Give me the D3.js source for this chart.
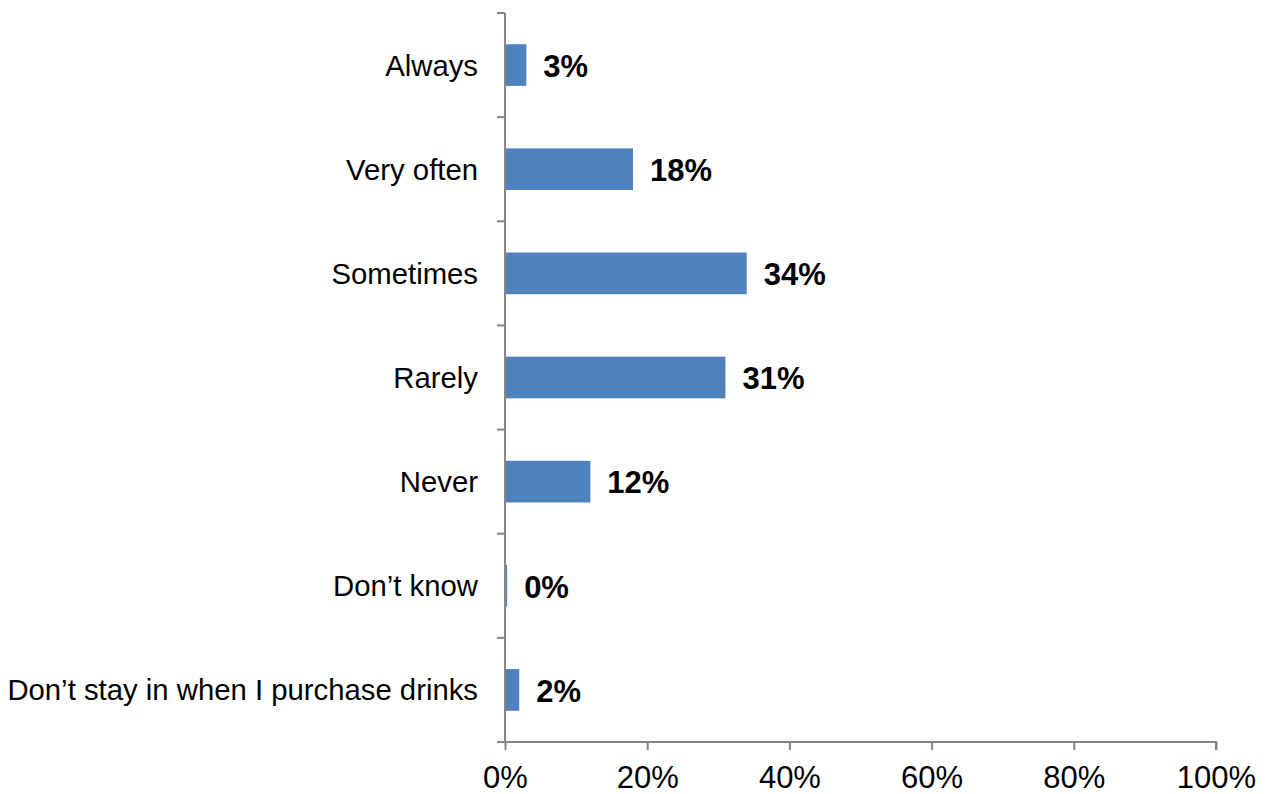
<!DOCTYPE html>
<html>
<head>
<meta charset="utf-8">
<script src="https://cdn.jsdelivr.net/npm/d3@7"></script>
<style>
  html, body { margin: 0; padding: 0; background: #fff; }
  svg { display: block; }
</style>
</head>
<body>
<svg id="chart" width="1271" height="794"></svg>
<script>
// Survey responses, top to bottom
const categories = [
  "Always",
  "Very often",
  "Sometimes",
  "Rarely",
  "Never",
  "Don\u2019t know",
  "Don\u2019t stay in when I purchase drinks"
];
const shares = [3, 18, 34, 31, 12, 0.3, 2];
const xTickValues = [0, 20, 40, 60, 80, 100];

const svg = d3.select("#chart");
const margin = { top: 13, left: 505, right: 55, bottom: 52 };
const W = 1271, H = 794;

const x = d3.scaleLinear().domain([0, 100]).range([margin.left, W - margin.right]);
const y = d3.scaleBand().domain(categories).range([margin.top, H - margin.bottom]).paddingInner(0.6).paddingOuter(0.3);

const axisColor = "#868686";
const font = "Arial, 'Liberation Sans', sans-serif";

// Bars
svg.append("g").selectAll("rect")
  .data(categories)
  .enter().append("rect")
  .attr("x", x(0))
  .attr("y", d => y(d))
  .attr("width", (d, i) => x(shares[i]) - x(0))
  .attr("height", y.bandwidth())
  .attr("fill", "#4F81BD");

// Value labels
svg.append("g").selectAll("text")
  .data(categories)
  .enter().append("text")
  .attr("x", (d, i) => x(shares[i]) + 17)
  .attr("y", d => y(d) + y.bandwidth() / 2)
  .attr("dy", "0.38em")
  .attr("font-family", font)
  .attr("font-size", 31)
  .attr("font-weight", "bold")
  .attr("fill", "#000")
  .text((d, i) => Math.round(shares[i]) + "%");

// Category axis with ticks between the bands
const boundaries = d3.range(categories.length + 1).map(i => margin.top + i * (H - margin.bottom - margin.top) / categories.length);
const yAxis = svg.append("g");
yAxis.append("line")
  .attr("x1", x(0)).attr("x2", x(0))
  .attr("y1", margin.top).attr("y2", H - margin.bottom)
  .attr("stroke", axisColor).attr("stroke-width", 2);
yAxis.selectAll("line.tick")
  .data(boundaries)
  .enter().append("line")
  .attr("class", "tick")
  .attr("x1", x(0) - 8).attr("x2", x(0))
  .attr("y1", d => d).attr("y2", d => d)
  .attr("stroke", axisColor).attr("stroke-width", 2);
yAxis.selectAll("text")
  .data(categories)
  .enter().append("text")
  .attr("x", x(0) - 27)
  .attr("y", d => y(d) + y.bandwidth() / 2)
  .attr("dy", "0.36em")
  .attr("text-anchor", "end")
  .attr("font-family", font)
  .attr("font-size", 29.3)
  .attr("fill", "#000")
  .text(d => d);

// Value axis
const xAxis = d3.axisBottom(x)
  .tickValues(xTickValues)
  .tickSize(8)
  .tickPadding(16)
  .tickFormat(d => d + "%");
const gx = svg.append("g")
  .attr("transform", `translate(0,${H - margin.bottom})`)
  .call(xAxis);
gx.select(".domain")
  .attr("stroke", axisColor).attr("stroke-width", 2)
  .attr("d", `M${x(0) - 8},0H${x(100)}V8`);
gx.selectAll(".tick line").attr("stroke", axisColor).attr("stroke-width", 2);
gx.selectAll(".tick text")
  .attr("font-family", font)
  .attr("font-size", 31)
  .attr("fill", "#000");
</script>
</body>
</html>
